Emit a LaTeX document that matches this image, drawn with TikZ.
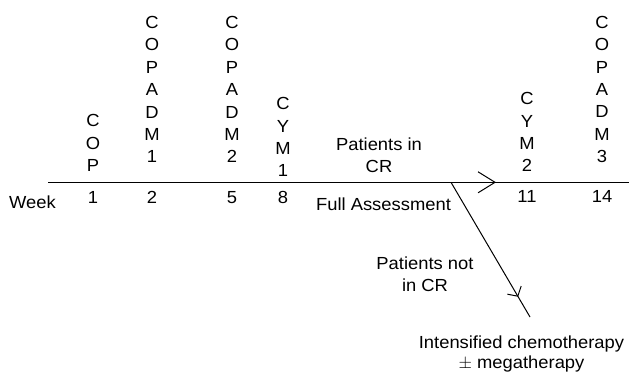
\documentclass[tikz,border=0pt]{standalone}
\usepackage{fontspec}
\setmainfont{Liberation Sans}[FakeStretch=1.05]
\usetikzlibrary{arrows.meta,decorations.markings}
\begin{document}
\begin{tikzpicture}[x=1pt,y=-1pt,
  stack/.style={inner sep=0pt, anchor=south, align=center, font=\fontsize{17.5}{22.4}\selectfont},
  lbl/.style={inner sep=0pt, anchor=base, font=\fontsize{17.5}{21}\selectfont},
  multi/.style={inner sep=0pt, anchor=north, align=center, font=\fontsize{17.5}{21.5}\selectfont},
  axis/.style={line width=1pt, black},
  bigchev/.style={postaction={decorate}, decoration={markings, mark=at position #1 with {\arrow{Straight Barb[length=17pt,width=21pt,line width=1pt]}}}},
  smallchev/.style={postaction={decorate}, decoration={markings, mark=at position #1 with {\arrow{Straight Barb[length=7pt,width=16pt,line width=1pt]}}}}
]
\useasboundingbox (0,0) rectangle (629,372);
% stacks
\node[stack] (cop) at (93,171.7) {C\\O\\P};
\node[stack] (copadm1) at (152,163) {C\\O\\P\\A\\D\\M\\1};
\node[stack] (copadm2) at (232,163) {C\\O\\P\\A\\D\\M\\2};
\node[stack] (cym1) at (283,177) {C\\Y\\M\\1};
\node[stack] (cym2) at (527,172) {C\\Y\\M\\2};
\node[stack] (copadm3) at (602,163) {C\\O\\P\\A\\D\\M\\3};
% week numbers
\node[lbl] (week) at (32.5,208.3) {Week};
\node[lbl] (w1) at (93,203.3) {1};
\node[lbl] (w2) at (152,203.3) {2};
\node[lbl] (w5) at (232,203.3) {5};
\node[lbl] (w8) at (283,203.3) {8};
\node[lbl] (w11) at (527,202.3) {11};
\node[lbl] (w14) at (602,202.3) {14};
\node[lbl] (full) at (383.5,210) {Full Assessment};
% branch labels
\node[multi] (incr) at (379,138) {Patients in\\CR};
\node[multi] (notcr) at (425,257) {Patients not\\in CR};
\node[multi, font=\fontsize{17.5}{20}\selectfont] (intens) at (521.5,335.5) {Intensified chemotherapy\\$\pm$ megatherapy};
% lines
\coordinate (start) at (48,182.3);
\coordinate (stop) at (629,182.3);
\coordinate (fork) at (451,182.3);
\coordinate (tail) at (530,317);
\draw[axis, bigchev=448pt] (start) -- (stop);
\draw[axis, smallchev=132.7pt] (fork) -- (tail);
\end{tikzpicture}
\end{document}
